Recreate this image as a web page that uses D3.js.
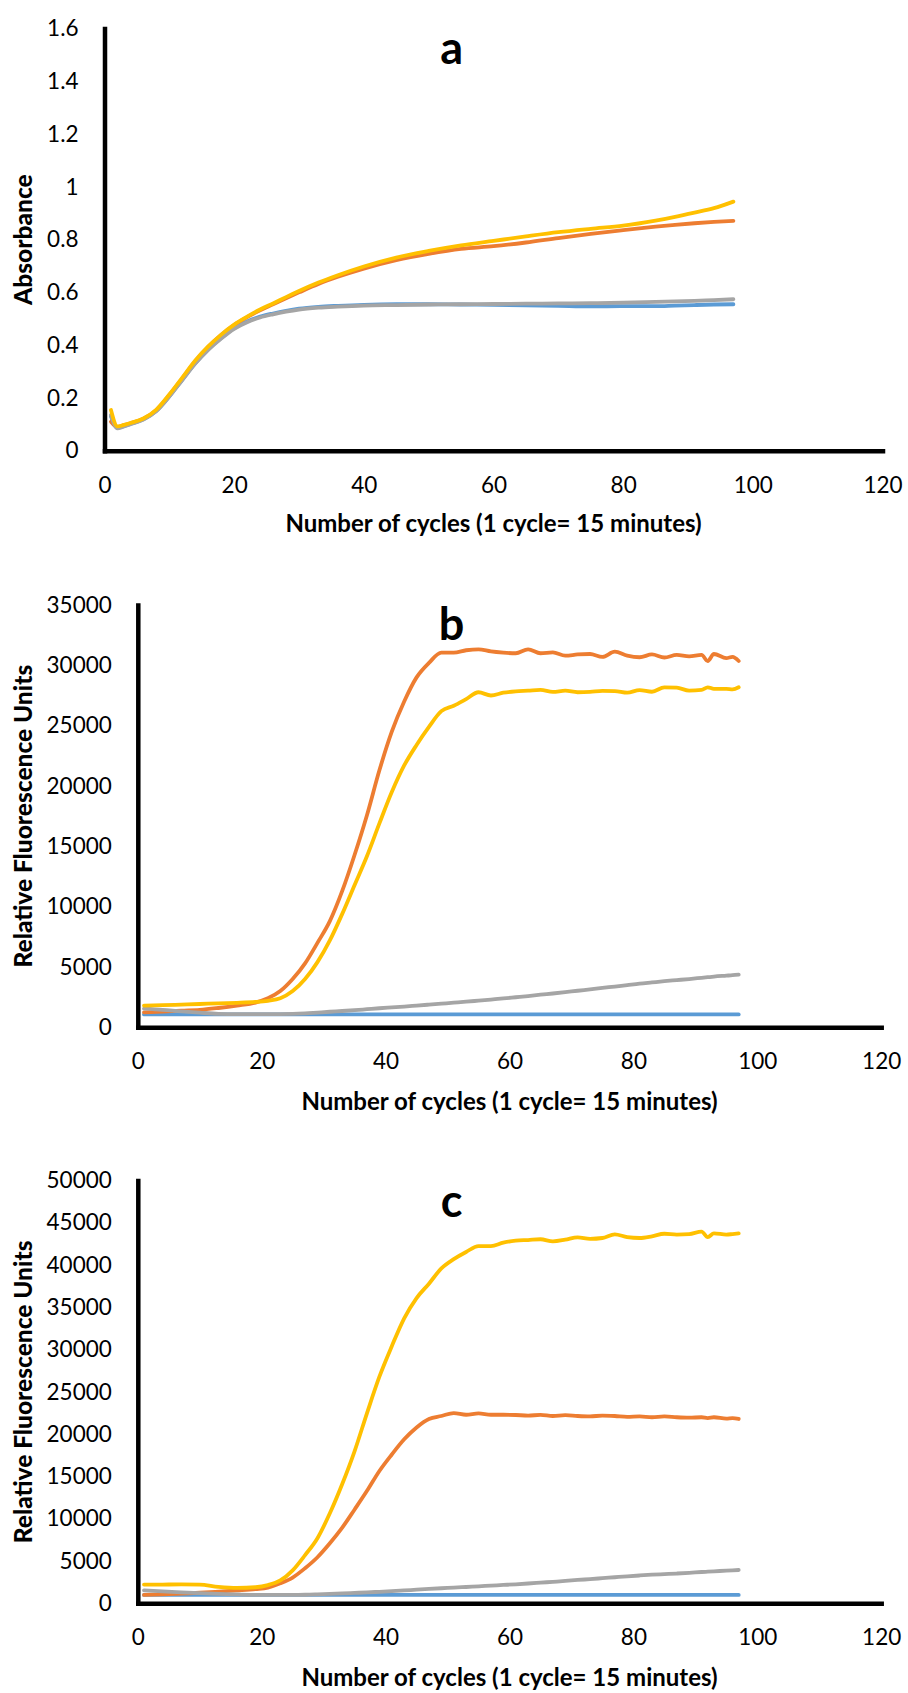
<!DOCTYPE html>
<html>
<head>
<meta charset="utf-8">
<title>Absorbance and fluorescence curves</title>
<script src="https://cdn.jsdelivr.net/npm/d3@7/dist/d3.min.js"></script>
<style>
  html, body { margin: 0; padding: 0; background: #fff; }
  svg { display: block; }
  .tick text { font-family: Lato, "Open Sans", sans-serif; font-size: 22.5px; fill: #000; }
  .axis-title { font-family: Lato, sans-serif; font-weight: bold; font-size: 24px; fill: #000; }
  .y-title { font-family: Lato, sans-serif; font-weight: 900; font-size: 24.5px; fill: #000; }
  .panel-letter { font-family: Lato, sans-serif; font-weight: bold; font-size: 45px; fill: #000; }
</style>
</head>
<body>
<svg id="chart" width="908" height="1693"></svg>
<script>
// ---- data ----
const xTicks = [0, 20, 40, 60, 80, 100, 120];
const aYTicks = [0, 0.2, 0.4, 0.6, 0.8, 1, 1.2, 1.4, 1.6];
const bYTicks = [0, 5000, 10000, 15000, 20000, 25000, 30000, 35000];
const cYTicks = [0, 5000, 10000, 15000, 20000, 25000, 30000, 35000, 40000, 45000, 50000];

// panel a: absorbance
const aCycles = [1, 2, 3, 4, 6, 8, 10, 12, 14, 16, 18, 20, 22, 24, 26, 28, 30, 33, 36, 40, 45, 50, 55, 60, 65, 70, 75, 80, 85, 88, 91, 94, 97];
const aBlue   = [0.130, 0.087, 0.093, 0.101, 0.119, 0.151, 0.206, 0.269, 0.331, 0.384, 0.427, 0.464, 0.490, 0.508, 0.520, 0.530, 0.538, 0.545, 0.549, 0.553, 0.555, 0.555, 0.554, 0.553, 0.551, 0.549, 0.547, 0.548, 0.548, 0.550, 0.552, 0.554, 0.555];
const aOrange = [0.110, 0.090, 0.097, 0.104, 0.121, 0.154, 0.211, 0.274, 0.339, 0.394, 0.439, 0.476, 0.506, 0.532, 0.555, 0.578, 0.600, 0.632, 0.659, 0.690, 0.722, 0.746, 0.765, 0.775, 0.789, 0.806, 0.822, 0.836, 0.849, 0.856, 0.862, 0.867, 0.871];
const aGray   = [0.135, 0.085, 0.092, 0.100, 0.118, 0.150, 0.205, 0.268, 0.330, 0.382, 0.425, 0.462, 0.487, 0.505, 0.517, 0.527, 0.535, 0.542, 0.546, 0.550, 0.552, 0.554, 0.555, 0.556, 0.557, 0.558, 0.559, 0.561, 0.564, 0.566, 0.568, 0.571, 0.574];
const aYellow = [0.154, 0.092, 0.098, 0.105, 0.122, 0.156, 0.213, 0.277, 0.342, 0.395, 0.440, 0.478, 0.508, 0.535, 0.558, 0.582, 0.605, 0.637, 0.665, 0.698, 0.732, 0.757, 0.778, 0.795, 0.812, 0.828, 0.841, 0.853, 0.872, 0.886, 0.902, 0.919, 0.944];

// panels b and c: relative fluorescence units
const bcCycles = [1, 4, 7, 10, 13, 16, 19, 21, 23, 25, 27, 29, 31, 33, 35, 37, 39, 41, 43, 45, 47, 49, 51, 53, 55, 57, 59, 61, 63, 65, 67, 69, 71, 73, 75, 77, 79, 81, 83, 85, 87, 89, 91, 92, 93, 95, 96, 97];

const bBlue   = [1070, 1070, 1070, 1070, 1070, 1070, 1070, 1070, 1070, 1070, 1070, 1070, 1070, 1070, 1070, 1070, 1070, 1070, 1070, 1070, 1070, 1070, 1070, 1070, 1070, 1070, 1070, 1070, 1070, 1070, 1070, 1070, 1070, 1070, 1070, 1070, 1070, 1070, 1070, 1070, 1070, 1070, 1070, 1070, 1070, 1070, 1070, 1070];
const bOrange = [1240, 1300, 1380, 1440, 1600, 1800, 2050, 2400, 3000, 4000, 5300, 7000, 8800, 11300, 14300, 17600, 21300, 24500, 27000, 29000, 30200, 31050, 31050, 31250, 31330, 31150, 31050, 31000, 31330, 31000, 31080, 30800, 30900, 30940, 30700, 31130, 30800, 30670, 30900, 30650, 30860, 30750, 30860, 30360, 30940, 30600, 30700, 30360];
const bGray   = [1550, 1450, 1320, 1210, 1120, 1100, 1100, 1100, 1100, 1110, 1150, 1220, 1290, 1350, 1420, 1500, 1580, 1650, 1720, 1800, 1880, 1960, 2040, 2120, 2210, 2300, 2390, 2490, 2590, 2700, 2800, 2910, 3030, 3140, 3260, 3380, 3500, 3620, 3720, 3820, 3910, 4000, 4100, 4150, 4200, 4280, 4320, 4370];
const bYellow = [1800, 1830, 1880, 1930, 1990, 2030, 2100, 2200, 2400, 3000, 4000, 5400, 7200, 9400, 11800, 14200, 16900, 19500, 21700, 23400, 24900, 26200, 26650, 27200, 27770, 27500, 27730, 27850, 27900, 27960, 27800, 27900, 27770, 27800, 27880, 27870, 27730, 27950, 27810, 28180, 28150, 27900, 27960, 28180, 28050, 28050, 28000, 28180];

const cBlue   = [990, 990, 990, 990, 990, 990, 990, 990, 990, 990, 990, 990, 990, 990, 990, 990, 990, 990, 990, 990, 990, 990, 990, 990, 990, 990, 990, 990, 990, 990, 990, 990, 990, 990, 990, 990, 990, 990, 990, 990, 990, 990, 990, 990, 990, 990, 990, 990];
const cOrange = [990, 1050, 1150, 1250, 1380, 1520, 1680, 1850, 2360, 3050, 4150, 5450, 7100, 8950, 11100, 13300, 15650, 17600, 19400, 20800, 21800, 22150, 22500, 22300, 22450, 22300, 22300, 22270, 22200, 22280, 22150, 22250, 22150, 22100, 22200, 22150, 22050, 22100, 22000, 22100, 22000, 21950, 22000, 21900, 22000, 21850, 21900, 21800];
const cGray   = [1525, 1420, 1300, 1195, 1110, 1050, 1000, 990, 990, 990, 1010, 1060, 1120, 1170, 1230, 1290, 1360, 1430, 1520, 1610, 1700, 1780, 1850, 1930, 2010, 2090, 2170, 2250, 2340, 2440, 2540, 2640, 2760, 2860, 2970, 3080, 3190, 3290, 3380, 3450, 3520, 3600, 3700, 3740, 3780, 3860, 3900, 3940];
const cYellow = [2210, 2220, 2230, 2210, 1950, 1820, 1900, 2150, 2700, 3900, 5700, 7700, 10640, 14100, 18000, 22500, 26800, 30400, 33700, 36100, 37800, 39600, 40700, 41550, 42250, 42250, 42650, 42880, 42960, 43050, 42800, 43000, 43280, 43100, 43200, 43640, 43300, 43200, 43400, 43700, 43600, 43650, 43950, 43300, 43750, 43600, 43670, 43750];

const colors = { blue: "#5b9bd5", orange: "#ed7d31", gray: "#a5a5a5", yellow: "#ffc000" };

const panels = [
  {
    letter: "a", letterY: 64,
    left: 104.5, right: 882.5, top: 28.5, bottom: 450.7,
    yTicks: aYTicks, yTitle: "Absorbance",
    xTitleY: 532,
    cycles: aCycles,
    series: [["blue", aBlue], ["orange", aOrange], ["gray", aGray], ["yellow", aYellow]]
  },
  {
    letter: "b", letterY: 640,
    left: 137.8, right: 881.2, top: 605, bottom: 1027.3,
    yTicks: bYTicks, yTitle: "Relative Fluorescence Units",
    xTitleY: 1110,
    cycles: bcCycles,
    series: [["blue", bBlue], ["orange", bOrange], ["gray", bGray], ["yellow", bYellow]]
  },
  {
    letter: "c", letterY: 1217,
    left: 137.8, right: 881.2, top: 1180.5, bottom: 1603.3,
    yTicks: cYTicks, yTitle: "Relative Fluorescence Units",
    xTitleY: 1686,
    cycles: bcCycles,
    series: [["blue", cBlue], ["orange", cOrange], ["gray", cGray], ["yellow", cYellow]]
  }
];

const svg = d3.select("#chart");
svg.append("rect").attr("width", 908).attr("height", 1693).attr("fill", "#fff");

panels.forEach(p => {
  const x = d3.scaleLinear().domain([0, 120]).range([p.left, p.right]);
  const y = d3.scaleLinear().domain([0, p.yTicks[p.yTicks.length - 1]]).range([p.bottom, p.top]);

  const g = svg.append("g");

  // curves
  const line = d3.line()
    .x(d => x(d[0]))
    .y(d => y(d[1]))
    .curve(d3.curveMonotoneX);

  p.series.forEach(([name, vals]) => {
    const pts = p.cycles.map((c, i) => [c, vals[i]]);
    g.append("path")
      .datum(pts)
      .attr("d", line)
      .attr("fill", "none")
      .attr("stroke", colors[name])
      .attr("stroke-width", 3.8)
      .attr("stroke-linejoin", "round")
      .attr("stroke-linecap", "round");
  });

  // axes
  const yAxis = g.append("g")
    .attr("transform", `translate(${p.left},0)`)
    .call(d3.axisLeft(y).tickValues(p.yTicks).tickFormat(d => String(d)).tickSize(0).tickPadding(26));
  const xAxis = g.append("g")
    .attr("transform", `translate(0,${p.bottom})`)
    .call(d3.axisBottom(x).tickValues(xTicks).tickFormat(d => String(d)).tickSize(0).tickPadding(26));

  [yAxis, xAxis].forEach(a => {
    a.select(".domain").attr("stroke", "#000").attr("stroke-width", 4.5).attr("stroke-linecap", "square");
  });

  // titles
  g.append("text")
    .attr("class", "axis-title")
    .attr("x", (p.left + p.right) / 2)
    .attr("y", p.xTitleY)
    .attr("text-anchor", "middle")
    .text("Number of cycles (1 cycle= 15 minutes)");

  g.append("text")
    .attr("class", "y-title")
    .attr("transform", `translate(32,${(p.top + p.bottom) / 2}) rotate(-90)`)
    .attr("text-anchor", "middle")
    .text(p.yTitle);

  g.append("text")
    .attr("class", "panel-letter")
    .attr("x", 451.6)
    .attr("y", p.letterY)
    .attr("text-anchor", "middle")
    .text(p.letter);
});
</script>
</body>
</html>
